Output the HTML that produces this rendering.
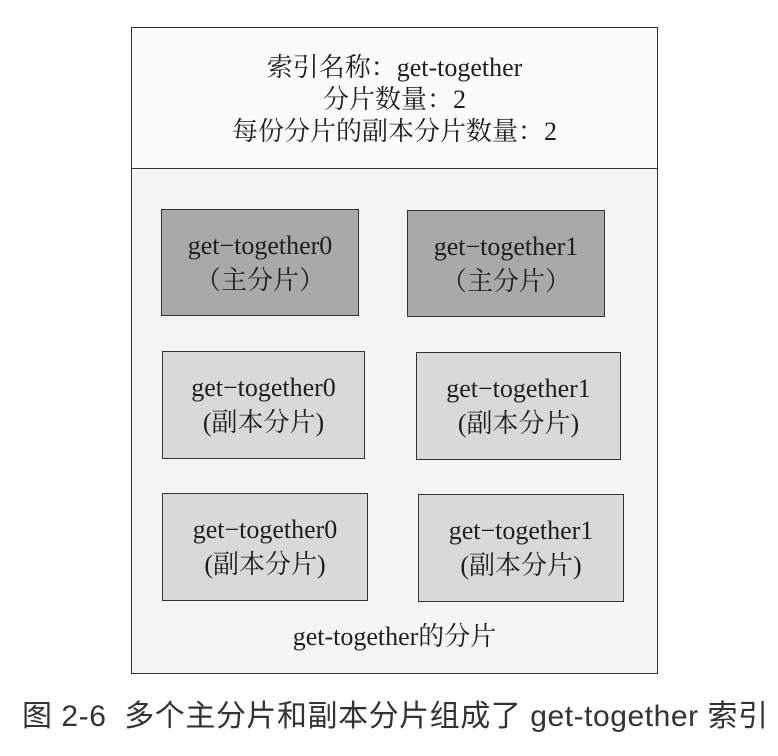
<!DOCTYPE html>
<html><head><meta charset="utf-8"><style>
body{margin:0;width:778px;height:756px;background:#fff;position:relative;overflow:hidden;font-family:"Liberation Serif","Noto Serif CJK SC",serif;color:#1e1e1e}
.a{position:absolute;box-sizing:border-box}
.t{position:absolute;text-align:center;font-size:26px;line-height:32px;white-space:nowrap}
.b{position:absolute;box-sizing:border-box;border:1.5px solid #333;text-align:center;font-size:26px;line-height:35px;display:flex;flex-direction:column;justify-content:center;white-space:nowrap}
.p{background:#a9a9a7}.r{background:#d9d9d7}
</style></head><body>
<div class="a" style="left:131px;top:27px;width:527px;height:647px;border:1.5px solid #333;background:#f5f5f3"></div>
<div class="a" style="left:132px;top:28px;width:525px;height:141px;background:#fbfbfa;border-bottom:1.5px solid #333"></div>
<div class="t" style="left:131px;width:527px;top:52px">索引名称：get-together</div>
<div class="t" style="left:131px;width:527px;top:84px">分片数量：2</div>
<div class="t" style="left:131px;width:527px;top:116px">每份分片的副本分片数量：2</div>
<div class="b p" style="left:161px;top:209px;width:198px;height:107px">get−together0<br>（主分片）</div>
<div class="b p" style="left:407px;top:210px;width:198px;height:107px">get−together1<br>（主分片）</div>
<div class="b r" style="left:162px;top:351px;width:203px;height:108px">get−together0<br>(副本分片)</div>
<div class="b r" style="left:416px;top:352px;width:205px;height:108px">get−together1<br>(副本分片)</div>
<div class="b r" style="left:162px;top:493px;width:206px;height:108px">get−together0<br>(副本分片)</div>
<div class="b r" style="left:418px;top:494px;width:206px;height:108px">get−together1<br>(副本分片)</div>
<div class="t" style="left:131px;width:527px;top:621px">get-together的分片</div>
<div class="a" style="left:22px;top:698px;width:770px;font-family:'Liberation Sans','Noto Sans CJK SC',sans-serif;font-size:30px;line-height:38px;letter-spacing:0.55px;color:#333;white-space:nowrap">图 2-6&nbsp;&nbsp;多个主分片和副本分片组成了 get-together 索引</div>
</body></html>
